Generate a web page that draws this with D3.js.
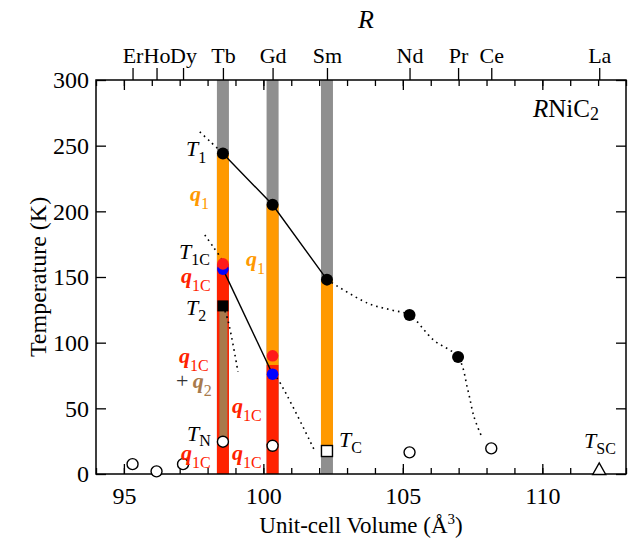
<!DOCTYPE html>
<html>
<head>
<meta charset="utf-8">
<script src="https://cdn.jsdelivr.net/npm/d3@7"></script>
<style>
  html, body { margin: 0; padding: 0; background: #fff; }
  svg, svg text { font-family: "Liberation Serif", "Times New Roman", Times, "Nimbus Roman", "DejaVu Serif", serif; }
</style>
</head>
<body>
<svg id="chart" width="632" height="539"></svg>
<script>
// ---------- data ----------
const elements = ["Er", "Ho", "Dy", "Tb", "Gd", "Sm", "Nd", "Pr", "Ce", "La"];
const volumes  = [95.31, 96.17, 97.12, 98.55, 100.33, 102.28, 105.24, 106.98, 108.17, 112.04];
const vol = Object.fromEntries(elements.map((e, i) => [e, volumes[i]]));

const xTicks = [95, 100, 105, 110];
const xMinorTicks = d3.range(94, 114, 1);
const yTicks = [0, 50, 100, 150, 200, 250, 300];

// T1 (filled black circles)
const t1Elements = ["Tb", "Gd", "Sm", "Nd", "Pr"];
const t1Values   = [244, 205, 148, 121, 89];
// T_N (open circles)
const tnElements = ["Er", "Ho", "Dy", "Tb", "Gd", "Nd", "Ce"];
const tnValues   = [7.5, 2, 7.5, 24.6, 21.5, 16.5, 19.5];
// T1C red and blue points
const redElements  = ["Tb", "Gd"];
const redValues    = [160, 90];
const blueElements = ["Tb", "Gd"];
const blueValues   = [156, 76];
// T2 (filled square), T_C (open square), T_SC (open triangle)
const t2Point  = { el: "Tb", T: 128 };
const tcPoint  = { el: "Sm", T: 17.5 };
const tscPoint = { el: "La", T: 2.7 };

// phase bars: [element, low T, high T, phase]
const barElements = ["Tb", "Gd", "Sm"];
const barSegments = [
  ["Tb", 160, 244, "q1"], ["Tb", 0, 160, "q1C"], ["Tb", 24.6, 128, "q2"],
  ["Gd", 83, 205, "q1"],  ["Gd", 0, 83, "q1C"],
  ["Sm", 17.5, 148, "q1"]
];

// dotted guide curves (volume, T)
const dotT1Ext   = [[97.72, 260.5], [98.1, 253], [98.55, 244]];
const dotT1Right = [[102.28, 148], [103.74, 130], [104.56, 125], [105.24, 121],
                    [106.1, 102], [106.98, 89], [107.33, 64], [107.55, 43.6], [107.8, 29.7]];
const dotT1CExt  = [[97.9, 182], [98.2, 173], [98.5, 164]];
const dotT2      = [[98.55, 128], [98.73, 117], [99.09, 77.7]];
const dotGdSm    = [[100.33, 76], [100.49, 73], [101.86, 16.8]];

// ---------- setup ----------
const FONT = '"Liberation Serif", "Times New Roman", Times, "Nimbus Roman", "DejaVu Serif", serif';
const svg = d3.select("#chart").attr("font-family", FONT);
const x = d3.scaleLinear().domain([94, 113]).range([96, 626]);
const y = d3.scaleLinear().domain([0, 300]).range([474, 80]);

const C = {
  gray: "#8f8f8f", orange: "#ff9900", red: "#ff2200", brown: "#a87a4c",
  dotRed: "#ff1a1a", blue: "#0000ff"
};
const phaseColor = { q1: C.orange, q1C: C.red, q2: C.brown };
const barW = 12;
const TICK_FS = 24;

// gray background bars
svg.append("g").selectAll("rect").data(barElements).join("rect")
  .attr("x", d => x(vol[d]) - barW / 2)
  .attr("width", barW)
  .attr("y", y(300))
  .attr("height", y(0) - y(300))
  .attr("fill", C.gray);

// coloured phase segments
svg.append("g").selectAll("rect").data(barSegments).join("rect")
  .attr("x", d => d[3] === "q2" ? x(vol[d[0]]) - 3.5 : x(vol[d[0]]) - barW / 2)
  .attr("width", d => d[3] === "q2" ? 8 : barW)
  .attr("y", d => y(d[2]))
  .attr("height", d => y(d[1]) - y(d[2]))
  .attr("fill", d => phaseColor[d[3]]);

// ---------- axes ----------
const tickStyle = (fs) => g => {
  g.attr("font-family", FONT).attr("font-size", fs);
  g.select(".domain").remove();
  g.selectAll(".tick line").attr("stroke", "#000").attr("stroke-width", 1.3);
  g.selectAll(".tick text").attr("fill", "#000")
    .attr("font-family", FONT).attr("font-size", fs);
};

// bottom
svg.append("g").attr("transform", "translate(0,474)")
  .call(d3.axisBottom(x).tickValues(xMinorTicks).tickSize(-6).tickFormat(""))
  .call(tickStyle(TICK_FS));
svg.append("g").attr("transform", "translate(0,474)")
  .call(d3.axisBottom(x).tickValues(xTicks).tickSize(-10).tickPadding(13).tickFormat(d3.format("d")))
  .call(tickStyle(TICK_FS));
// top
svg.append("g").attr("transform", "translate(0,80)")
  .call(d3.axisTop(x).tickValues(xMinorTicks).tickSize(-6).tickFormat(""))
  .call(tickStyle(TICK_FS));
svg.append("g").attr("transform", "translate(0,80)")
  .call(d3.axisTop(x).tickValues(xTicks).tickSize(-10).tickFormat(""))
  .call(tickStyle(TICK_FS));
svg.append("g").attr("transform", "translate(0,80)")
  .call(d3.axisTop(x).tickValues(volumes).tickSize(12).tickPadding(5)
    .tickFormat((d, i) => elements[i]))
  .call(tickStyle(22));
// left / right
svg.append("g").attr("transform", "translate(96,0)")
  .call(d3.axisLeft(y).tickValues(yTicks).tickSize(-10).tickPadding(7))
  .call(tickStyle(TICK_FS));
svg.append("g").attr("transform", "translate(626,0)")
  .call(d3.axisRight(y).tickValues(yTicks).tickSize(-10).tickFormat(""))
  .call(tickStyle(TICK_FS));

// frame
svg.append("rect")
  .attr("x", x(94)).attr("y", y(300))
  .attr("width", x(113) - x(94)).attr("height", y(0) - y(300))
  .attr("fill", "none").attr("stroke", "#000").attr("stroke-width", 1.5);

// axis titles
{
  const t = svg.append("text").attr("x", 361).attr("y", 533).attr("text-anchor", "middle")
    .attr("font-family", FONT).attr("font-size", 23);
  t.append("tspan").text("Unit-cell Volume (Å");
  t.append("tspan").attr("dy", -9).attr("font-size", 15).text("3");
  t.append("tspan").attr("dy", 9).text(")");
}
svg.append("text").attr("transform", "translate(46,277) rotate(-90)")
  .attr("text-anchor", "middle").attr("font-family", FONT).attr("font-size", 24)
  .text("Temperature (K)");
svg.append("text").attr("x", 366).attr("y", 28).attr("text-anchor", "middle")
  .attr("font-family", FONT).attr("font-size", 26).attr("font-style", "italic").text("R");

// ---------- lines ----------
const line = d3.line().x(d => x(d[0])).y(d => y(d[1])).curve(d3.curveCatmullRom);
const dotted = [dotT1Ext, dotT1Right, dotT1CExt, dotT2, dotGdSm];
svg.append("g").selectAll("path").data(dotted).join("path")
  .attr("d", line)
  .attr("fill", "none").attr("stroke", "#000").attr("stroke-width", 1.6)
  .attr("stroke-dasharray", "1.6,4");

const t1Line = t1Elements.slice(0, 3).map((e, i) => [vol[e], t1Values[i]]);
const t1cLine = blueElements.map((e, i) => [vol[e], blueValues[i]]);
svg.append("g").selectAll("path").data([t1Line, t1cLine]).join("path")
  .attr("d", d3.line().x(d => x(d[0])).y(d => y(d[1])))
  .attr("fill", "none").attr("stroke", "#000").attr("stroke-width", 1.4);

// ---------- markers ----------
svg.append("g").selectAll("circle").data(blueElements).join("circle")
  .attr("cx", d => x(vol[d])).attr("cy", (d, i) => y(blueValues[i]))
  .attr("r", 5.8).attr("fill", C.blue);
svg.append("g").selectAll("circle").data(redElements).join("circle")
  .attr("cx", d => x(vol[d])).attr("cy", (d, i) => y(redValues[i]))
  .attr("r", 5.8).attr("fill", C.dotRed);

svg.append("g").selectAll("circle").data(t1Elements).join("circle")
  .attr("cx", d => x(vol[d])).attr("cy", (d, i) => y(t1Values[i]))
  .attr("r", 6).attr("fill", "#000");

svg.append("g").selectAll("circle").data(tnElements).join("circle")
  .attr("cx", d => x(vol[d])).attr("cy", (d, i) => y(tnValues[i]))
  .attr("r", 5.5).attr("fill", "#fff").attr("stroke", "#000").attr("stroke-width", 1.4);

svg.append("rect")
  .attr("x", x(vol[t2Point.el]) - 5.5).attr("y", y(t2Point.T) - 5.5)
  .attr("width", 11).attr("height", 11).attr("fill", "#000");
svg.append("rect")
  .attr("x", x(vol[tcPoint.el]) - 5.5).attr("y", y(tcPoint.T) - 5.5)
  .attr("width", 11).attr("height", 11).attr("fill", "#fff")
  .attr("stroke", "#000").attr("stroke-width", 1.4);
{
  const cx = x(vol[tscPoint.el]), cy = y(tscPoint.T);
  svg.append("path")
    .attr("d", `M${cx - 6.5},${cy + 4} L${cx + 6.5},${cy + 4} L${cx},${cy - 7.5} Z`)
    .attr("fill", "#fff").attr("stroke", "#000").attr("stroke-width", 1.4);
}

// ---------- labels ----------
function rich(x0, y0, parts, anchor) {
  const t = svg.append("text").attr("x", x0).attr("y", y0)
    .attr("font-family", FONT)
    .attr("text-anchor", anchor || "start");
  let cur = 0;
  parts.forEach(p => {
    const target = p.shift || 0;
    t.append("tspan").attr("dy", target - cur)
      .attr("font-size", p.fs || 20)
      .attr("font-style", p.it ? "italic" : "normal")
      .attr("font-weight", p.b ? "bold" : "normal")
      .attr("fill", p.fill || "#000")
      .text(p.t);
    cur = target;
  });
  return t;
}
const Tlab = (x0, y0, sub, sh) => rich(x0, y0, [
  { t: "T", it: true, fs: 22 }, { t: sub, fs: 16, shift: sh || 6 }]);
const qlab = (x0, y0, sub, fill) => rich(x0, y0, [
  { t: "q", it: true, b: true, fs: 22, fill }, { t: sub, fs: 16, shift: 8, fill }]);

Tlab(186, 156, "1", 7);
qlab(190, 201, "1", C.orange);
qlab(246, 266, "1", C.orange);
Tlab(179, 259, "1C", 6);
qlab(181, 283, "1C", C.red);
Tlab(186, 315, "2", 6);
qlab(179, 363, "1C", C.red);
rich(176, 388, [{ t: "+", fs: 22, fill: "#333" }, { t: "\u2009", fs: 22 },
  { t: "q", it: true, b: true, fs: 22, fill: C.brown },
  { t: "2", fs: 16, shift: 8, fill: C.brown }]);
qlab(232, 413, "1C", C.red);
Tlab(187, 441, "N", 5);
qlab(181, 460, "1C", C.red);
qlab(232, 460, "1C", C.red);
Tlab(339, 447, "C", 6);
Tlab(584, 448, "SC", 6);
rich(599, 117, [{ t: "R", it: true, fs: 25 }, { t: "NiC", fs: 25 },
  { t: "2", fs: 18, shift: 3 }], "end");
</script>
</body>
</html>
